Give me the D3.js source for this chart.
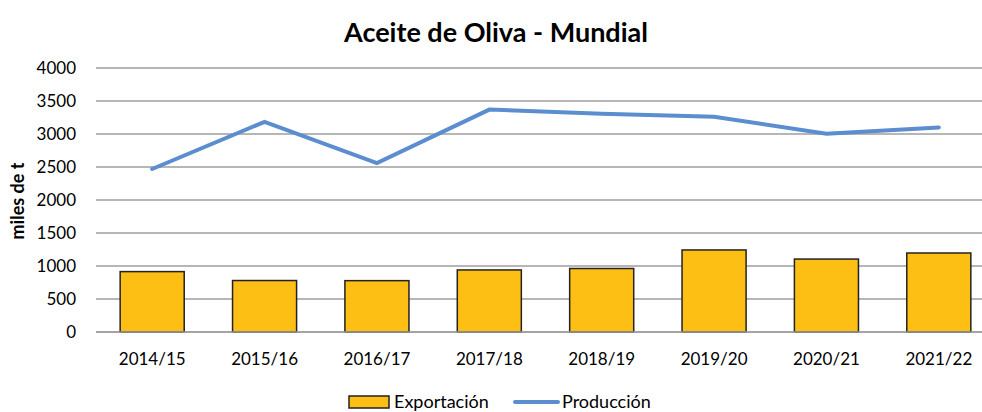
<!doctype html>
<html>
<head>
<meta charset="utf-8">
<script src="https://cdnjs.cloudflare.com/ajax/libs/d3/7.8.5/d3.min.js"></script>
<style>
body { margin: 0; background: #fff; }
text { font-family: Lato, "Open Sans", sans-serif; fill: #000; }
.title { font-size: 27px; font-weight: bold; }
.ytitle { font-size: 18px; font-weight: bold; }
.legend text { font-size: 18px; }
</style>
</head>
<body>
<svg width="982" height="412"></svg>
<script>
var campaigns = ["2014/15", "2015/16", "2016/17", "2017/18", "2018/19", "2019/20", "2020/21", "2021/22"]
var exportacion = [915, 780, 778, 940, 962, 1243, 1105, 1197]
var produccion = [2470, 3185, 2560, 3370, 3305, 3260, 3005, 3100]
var yTicks = [0, 500, 1000, 1500, 2000, 2500, 3000, 3500, 4000]

var svg = d3.select("svg")
// the plot area runs past the right edge of the picture, as in the source
var plotLeft = 96, plotRight = 995, plotTop = 68, plotBottom = 332

var x = d3.scaleBand().domain(campaigns).range([plotLeft, plotRight]).paddingInner(0.43).paddingOuter(0.215)
var y = d3.scaleLinear().domain([0, 4000]).range([plotBottom, plotTop])

// grid
svg.append("g")
  .selectAll("line")
  .data(yTicks)
  .enter()
  .append("line")
  .attr("x1", plotLeft).attr("x2", plotRight)
  .attr("y1", d => y(d)).attr("y2", d => y(d))
  .attr("stroke", "#9e9e9e").attr("stroke-width", 1.5)

// y axis labels
svg.append("g")
  .attr("transform", "translate(" + (plotLeft - 20) + ",0)")
  .call(d3.axisLeft(y).tickValues(yTicks).tickFormat(d3.format("d")).tickSize(0).tickPadding(0))
  .call(g => g.select(".domain").remove())

// x axis labels
svg.append("g")
  .attr("transform", "translate(0," + plotBottom + ")")
  .call(d3.axisBottom(x).tickSize(0).tickPadding(21))
  .call(g => g.select(".domain").remove())

svg.selectAll(".tick text")
  .style("font-family", "Lato, 'Open Sans', sans-serif")
  .style("font-size", "17px")
  .attr("fill", "#000")

// bars
svg.append("g")
  .selectAll("rect")
  .data(exportacion)
  .enter()
  .append("rect")
  .attr("x", (d, i) => x(campaigns[i]))
  .attr("width", x.bandwidth())
  .attr("y", d => y(d))
  .attr("height", d => plotBottom - y(d))
  .attr("fill", "#fdbf14")
  .attr("stroke", "#222")
  .attr("stroke-width", 1.5)

// baseline
svg.append("line")
  .attr("x1", plotLeft).attr("x2", plotRight)
  .attr("y1", plotBottom).attr("y2", plotBottom)
  .attr("stroke", "#9e9e9e").attr("stroke-width", 1.5)

// production line
var line = d3.line()
  .x((d, i) => x(campaigns[i]) + x.bandwidth() / 2)
  .y(d => y(d))

svg.append("path")
  .datum(produccion)
  .attr("d", line)
  .attr("fill", "none")
  .attr("stroke", "#5b8dcf")
  .attr("stroke-width", 4)
  .attr("stroke-linecap", "round")

// title
svg.append("text")
  .attr("class", "title")
  .attr("x", 496).attr("y", 42)
  .attr("text-anchor", "middle")
  .text("Aceite de Oliva - Mundial")

svg.append("text")
  .attr("class", "ytitle")
  .attr("transform", "translate(24,201) rotate(-90)")
  .attr("text-anchor", "middle")
  .text("miles de t")

// legend
var lg = svg.append("g").attr("class", "legend")
lg.append("rect")
  .attr("x", 349).attr("y", 396).attr("width", 40).attr("height", 12)
  .attr("fill", "#fdbf14").attr("stroke", "#222").attr("stroke-width", 1.5)
lg.append("text").attr("x", 394).attr("y", 408).text("Exportación")
lg.append("line")
  .attr("x1", 515).attr("x2", 558).attr("y1", 402).attr("y2", 402)
  .attr("stroke", "#5b8dcf").attr("stroke-width", 4).attr("stroke-linecap", "round")
lg.append("text").attr("x", 562).attr("y", 408).text("Producción")
</script>
</body>
</html>
